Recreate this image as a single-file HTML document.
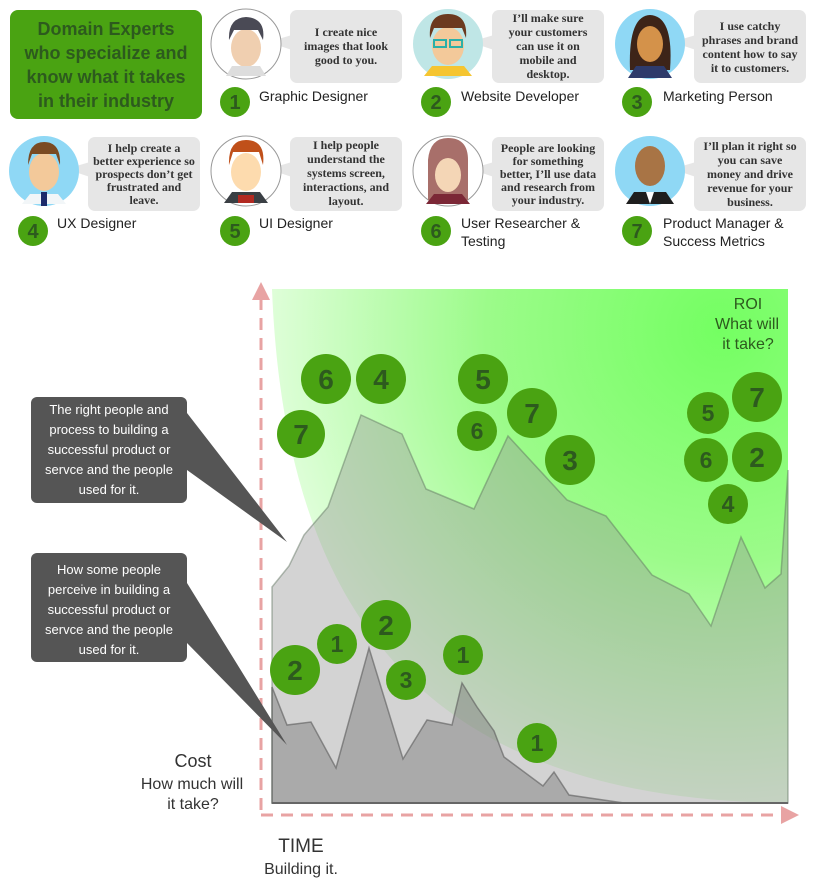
<!DOCTYPE html>
<html><head><meta charset="utf-8"><style>
html,body{margin:0;padding:0;background:#fff;width:828px;height:894px;overflow:hidden}
svg{display:block}
.bt{font-family:"Liberation Serif",serif;font-weight:bold;font-size:12px;fill:#333}
.nm{font-family:"Liberation Sans",sans-serif;font-size:14px;fill:#222}
.nb{font-family:"Liberation Sans",sans-serif;font-weight:bold;fill:#2d5a1e}
.cw{font-family:"Liberation Sans",sans-serif;font-size:13px;fill:#fff}
</style></head><body>
<svg width="828" height="894" viewBox="0 0 828 894" xmlns="http://www.w3.org/2000/svg">
<defs>
<radialGradient id="g" cx="720" cy="330" r="520" gradientUnits="userSpaceOnUse">
<stop offset="0" stop-color="#74ff62"/><stop offset="0.45" stop-color="#9cfb8a"/><stop offset="1" stop-color="#f4fff2"/>
</radialGradient>
</defs>
<!-- Title box -->
<rect x="10" y="10" width="192" height="109" rx="8" fill="#4aa312"/>
<g font-family="Liberation Sans,sans-serif" font-weight="bold" font-size="18" fill="#2d5a1e" text-anchor="middle">
<text x="106" y="35">Domain Experts</text><text x="106" y="59">who specialize and</text><text x="106" y="83">know what it takes</text><text x="106" y="107">in their industry</text></g>

<!-- Bubbles -->
<g fill="#e6e6e6">
<rect x="290" y="10" width="112" height="73" rx="7"/><polygon points="292,35 268,42 292,50"/>
<rect x="492" y="10" width="112" height="73" rx="7"/><polygon points="494,35 470,42 494,50"/>
<rect x="694" y="10" width="112" height="73" rx="7"/><polygon points="696,35 672,42 696,50"/>
<rect x="88" y="137" width="112" height="74" rx="7"/><polygon points="90,162 66,169 90,177"/>
<rect x="290" y="137" width="112" height="74" rx="7"/><polygon points="292,162 268,169 292,177"/>
<rect x="492" y="137" width="112" height="74" rx="7"/><polygon points="494,162 470,169 494,177"/>
<rect x="694" y="137" width="112" height="74" rx="7"/><polygon points="696,162 672,169 696,177"/>
</g>
<g class="bt" text-anchor="middle">
<text x="346" y="36">I create nice</text><text x="346" y="50">images that look</text><text x="346" y="64">good to you.</text>
<text x="548" y="22">I’ll make sure</text><text x="548" y="36">your customers</text><text x="548" y="50">can use it on</text><text x="548" y="64">mobile and</text><text x="548" y="78">desktop.</text>
<text x="750" y="30">I use catchy</text><text x="750" y="44">phrases and brand</text><text x="750" y="58">content how to say</text><text x="750" y="72">it to customers.</text>
<text x="144" y="152">I help create a</text><text x="144" y="165">better experience so</text><text x="144" y="178">prospects don’t get</text><text x="144" y="191">frustrated and</text><text x="144" y="204">leave.</text>
<text x="346" y="149">I help people</text><text x="346" y="163">understand the</text><text x="346" y="177">systems screen,</text><text x="346" y="191">interactions, and</text><text x="346" y="205">layout.</text>
<text x="548" y="152">People are looking</text><text x="548" y="165">for something</text><text x="548" y="178">better, I’ll use data</text><text x="548" y="191">and research from</text><text x="548" y="204">your industry.</text>
<text x="750" y="150">I’ll plan it right so</text><text x="750" y="164">you can save</text><text x="750" y="178">money and drive</text><text x="750" y="192">revenue for your</text><text x="750" y="206">business.</text>
</g>

<!-- Avatars -->
<g>
<circle cx="246" cy="44" r="35" fill="#fff" stroke="#999"/>
<ellipse cx="246" cy="48" rx="15" ry="19" fill="#f0cfb0"/><path d="M229,40 Q228,18 246,17 Q266,18 263,40 L258,30 L234,30 Z" fill="#4a4a55"/>
<path d="M226,76 L232,66 L260,66 L266,76 Z" fill="#ddd"/>
<circle cx="448" cy="44" r="35" fill="#bfe6e6"/>
<ellipse cx="448" cy="46" rx="16" ry="19" fill="#f3c99a"/><path d="M430,38 Q428,14 448,14 Q468,14 466,38 L462,28 L434,28 Z" fill="#6b3a1f"/>
<rect x="434" y="40" width="12" height="7" fill="none" stroke="#2bb0a8" stroke-width="2"/><rect x="450" y="40" width="12" height="7" fill="none" stroke="#2bb0a8" stroke-width="2"/>
<path d="M424,76 L432,66 L464,66 L472,76 Z" fill="#f5c531"/>
<circle cx="650" cy="44" r="35" fill="#8fd8f5"/>
<path d="M630,70 Q628,16 650,15 Q674,16 670,70 Z" fill="#3d2418"/><ellipse cx="650" cy="44" rx="13" ry="18" fill="#d4924a"/>
<path d="M628,78 L636,66 L664,66 L672,78 Z" fill="#2e3b6b"/>
<circle cx="44" cy="171" r="35" fill="#8fd8f5"/>
<ellipse cx="44" cy="172" rx="15" ry="19" fill="#f3c99a"/><path d="M28,165 Q28,142 44,142 Q61,142 60,165 L56,154 L32,154 Z" fill="#7a4a22"/>
<path d="M22,204 L30,194 L58,194 L66,204 Z" fill="#f2f6f8"/><rect x="41" y="192" width="6" height="14" fill="#1d2a6a"/>
<circle cx="246" cy="171" r="35" fill="#fff" stroke="#999"/>
<ellipse cx="246" cy="172" rx="15" ry="19" fill="#fddbae"/><path d="M229,165 Q228,140 246,140 Q266,140 263,165 L259,152 L233,152 Z" fill="#c0501a"/>
<path d="M224,203 L232,192 L260,192 L268,203 Z" fill="#3a3f44"/><rect x="238" y="195" width="16" height="8" fill="#b22a22"/>
<circle cx="448" cy="171" r="35" fill="#fff" stroke="#999"/>
<path d="M428,200 L428,160 Q430,138 448,138 Q468,138 468,160 L468,200 Z" fill="#a86f6a"/><ellipse cx="448" cy="175" rx="13" ry="17" fill="#f4d6b6"/>
<path d="M426,204 L434,194 L462,194 L470,204 Z" fill="#7b2736"/>
<circle cx="650" cy="171" r="35" fill="#8fd8f5"/>
<ellipse cx="650" cy="166" rx="15" ry="20" fill="#a87445"/>
<path d="M626,204 L634,192 L666,192 L674,204 Z" fill="#1e1e1e"/><polygon points="646,192 654,192 650,204" fill="#fff"/>
</g>

<g fill="#4aa312">
<circle cx="235" cy="102" r="15"/><circle cx="436" cy="102" r="15"/><circle cx="637" cy="102" r="15"/>
<circle cx="33" cy="231" r="15"/><circle cx="235" cy="231" r="15"/><circle cx="436" cy="231" r="15"/><circle cx="637" cy="231" r="15"/>
</g>
<g class="nb" font-size="20" text-anchor="middle">
<text x="235" y="109">1</text><text x="436" y="109">2</text><text x="637" y="109">3</text>
<text x="33" y="238">4</text><text x="235" y="238">5</text><text x="436" y="238">6</text><text x="637" y="238">7</text>
</g>
<g class="nm">
<text x="259" y="101">Graphic Designer</text><text x="461" y="101">Website Developer</text><text x="663" y="101">Marketing Person</text>
<text x="57" y="228">UX Designer</text><text x="259" y="228">UI Designer</text>
<text x="461" y="228">User Researcher &amp;</text><text x="461" y="246">Testing</text>
<text x="663" y="228">Product Manager &amp;</text><text x="663" y="246">Success Metrics</text>
</g>

<!-- Chart background -->
<rect x="272" y="289" width="516" height="514" fill="url(#g)"/>
<path d="M272,289 C285,620 430,800 788,803 L272,803 Z" fill="#fff"/>
<polygon points="272,587 289,566 304,535 328,507 361,415 402,434 426,489 474,509 508,436 567,500 606,516 652,575 689,594 711,626 741,537 765,588 781,574 788,470 788,803 272,803" fill="rgba(150,150,150,0.42)" stroke="rgba(90,110,90,0.45)" stroke-width="1.5"/>
<polygon points="272,687 287,725 311,722 336,768 369,648 403,759 427,720 452,725 462,683 477,707 494,731 504,757 543,786 554,772 569,795 624,803 272,803" fill="rgba(120,120,120,0.45)" stroke="rgba(90,90,90,0.6)" stroke-width="1.5"/>
<line x1="272" y1="803" x2="788" y2="803" stroke="#666" stroke-width="2"/>

<!-- Axes -->
<line x1="261" y1="298" x2="261" y2="812" stroke="#e8a3a3" stroke-width="3" stroke-dasharray="12,8"/>
<polygon points="261,282 252,300 270,300" fill="#e8a3a3"/>
<line x1="261" y1="815" x2="782" y2="815" stroke="#e8a3a3" stroke-width="3" stroke-dasharray="12,8"/>
<polygon points="799,815 781,806 781,824" fill="#e8a3a3"/>

<g fill="#4aa312">
<circle cx="326" cy="379" r="25"/><circle cx="381" cy="379" r="25"/><circle cx="301" cy="434" r="24"/>
<circle cx="483" cy="379" r="25"/><circle cx="477" cy="431" r="20"/><circle cx="532" cy="413" r="25"/><circle cx="570" cy="460" r="25"/>
<circle cx="708" cy="413" r="21"/><circle cx="757" cy="397" r="25"/><circle cx="706" cy="460" r="22"/><circle cx="757" cy="457" r="25"/><circle cx="728" cy="504" r="20"/>
<circle cx="295" cy="670" r="25"/><circle cx="337" cy="644" r="20"/><circle cx="386" cy="625" r="25"/><circle cx="406" cy="680" r="20"/><circle cx="463" cy="655" r="20"/><circle cx="537" cy="743" r="20"/>
</g>
<g class="nb" text-anchor="middle">
<g font-size="28"><text x="326" y="389">6</text><text x="381" y="389">4</text><text x="301" y="444">7</text><text x="483" y="389">5</text><text x="532" y="423">7</text><text x="570" y="470">3</text><text x="757" y="407">7</text><text x="757" y="467">2</text><text x="295" y="680">2</text><text x="386" y="635">2</text></g>
<g font-size="23"><text x="477" y="439">6</text><text x="708" y="421">5</text><text x="706" y="468">6</text><text x="728" y="512">4</text><text x="337" y="652">1</text><text x="406" y="688">3</text><text x="463" y="663">1</text><text x="537" y="751">1</text></g>
</g>
<g font-family="Liberation Sans Narrow,Liberation Sans,sans-serif" font-size="16" fill="#2d5a1e" text-anchor="middle">
<text x="748" y="309">ROI</text><text x="747" y="329">What will</text><text x="748" y="349">it take?</text></g>

<!-- Callouts -->
<polygon points="180,413 187,413 287,542 187,470 180,470" fill="#555"/>
<polygon points="180,583 187,583 287,745 187,643 180,643" fill="#555"/>
<rect x="31" y="397" width="156" height="106" rx="6" fill="#555"/>
<rect x="31" y="553" width="156" height="109" rx="6" fill="#555"/>
<g class="cw" text-anchor="middle">
<text x="109" y="414">The right people and</text><text x="109" y="434">process to building a</text><text x="109" y="454">successful product or</text><text x="109" y="474">servce and the people</text><text x="109" y="494">used for it.</text>
<text x="109" y="574">How some people</text><text x="109" y="594">perceive in building a</text><text x="109" y="614">successful product or</text><text x="109" y="634">servce and the people</text><text x="109" y="654">used for it.</text>
</g>

<g font-family="Liberation Sans,sans-serif" fill="#333" text-anchor="middle">
<text x="193" y="767" font-size="18">Cost</text>
<text x="192" y="789" font-size="16">How much will</text><text x="193" y="809" font-size="16">it take?</text>
<text x="301" y="852" font-size="19">TIME</text><text x="301" y="874" font-size="16">Building it.</text>
</g>
</svg>
</body></html>
